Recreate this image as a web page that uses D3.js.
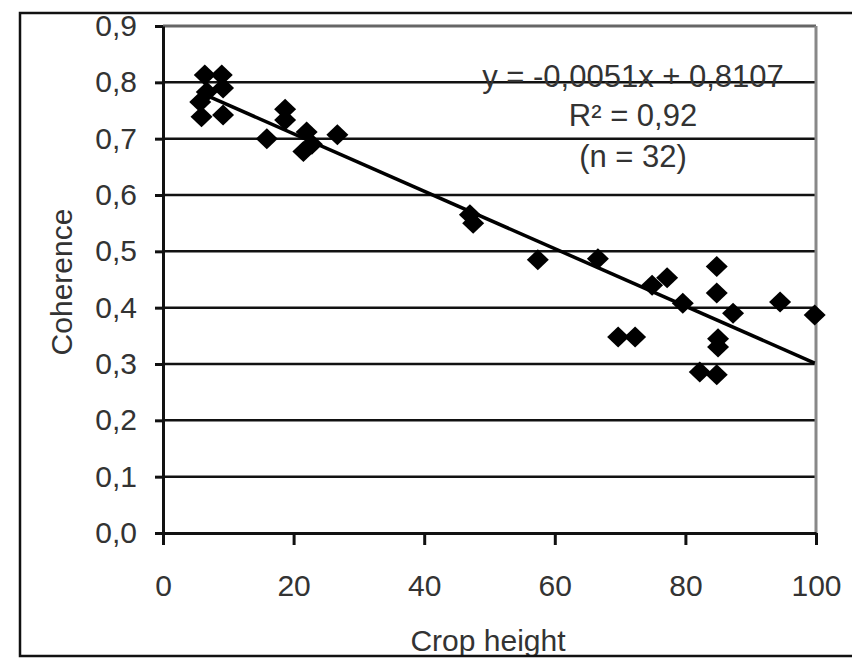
<!DOCTYPE html>
<html>
<head>
<meta charset="utf-8">
<script src="https://cdn.jsdelivr.net/npm/d3@7"></script>
<style>
  body { margin: 0; background: #fff; }
  text { font-family: "Liberation Sans", Arial, sans-serif; }
</style>
</head>
<body>
<div id="chart"></div>
<script>
// crop height (x) and coherence (y)
const cropHeight = [6.4, 9.0, 9.2, 6.7, 5.7, 5.9, 9.2,
  15.9, 18.7, 18.7, 22.0, 22.8, 21.5, 26.7,
  47.0, 47.5, 57.4, 66.6, 69.7, 72.3, 74.9, 77.2,
  79.6, 82.2, 84.8, 84.8, 85.0, 85.0, 84.8, 87.3, 94.5, 99.8];
const coherence = [0.813, 0.813, 0.79, 0.783, 0.765, 0.739, 0.742,
  0.70, 0.752, 0.733, 0.712, 0.69, 0.677, 0.707,
  0.565, 0.55, 0.485, 0.487, 0.348, 0.348, 0.44, 0.453,
  0.408, 0.286, 0.473, 0.426, 0.345, 0.33, 0.281, 0.39, 0.41, 0.387];

const slope = -0.0051;
const intercept = 0.8107;
const annotation = ['y = -0,0051x + 0,8107', 'R² = 0,92', '(n = 32)'];

const xTicks = [0, 20, 40, 60, 80, 100];
const yTicks = [0, 0.1, 0.2, 0.3, 0.4, 0.5, 0.6, 0.7, 0.8, 0.9];

const width = 852;
const height = 659;

const svg = d3.select('#chart').append('svg')
  .attr('width', width)
  .attr('height', height);

const x = d3.scaleLinear().domain([0, 100]).range([163, 816]);
const y = d3.scaleLinear().domain([0, 0.9]).range([533, 26]);

const comma = (d) => d3.format('.1f')(d).replace('.', ',');

// horizontal gridlines
svg.append('g')
  .selectAll('line')
  .data(yTicks.filter((d) => d > 0))
  .enter()
  .append('line')
  .attr('x1', x(0))
  .attr('x2', x(100))
  .attr('y1', (d) => y(d))
  .attr('y2', (d) => y(d))
  .attr('stroke', (d) => (d === 0.9 ? '#666' : '#111'))
  .attr('stroke-width', (d) => (d === 0.9 ? 3 : 2.5));

// right border of plot area
svg.append('line')
  .attr('x1', x(100)).attr('x2', x(100))
  .attr('y1', y(0.9)).attr('y2', y(0))
  .attr('stroke', '#888')
  .attr('stroke-width', 3);

// axes
const yAxis = svg.append('g')
  .attr('transform', `translate(${x(0)},0)`)
  .call(d3.axisLeft(y).tickValues(yTicks).tickFormat(comma)
    .tickSizeInner(8).tickSizeOuter(0).tickPadding(18));

const xAxis = svg.append('g')
  .attr('transform', `translate(0,${y(0)})`)
  .call(d3.axisBottom(x).tickValues(xTicks).tickFormat(d3.format('d'))
    .tickSizeInner(12).tickSizeOuter(0).tickPadding(30));

[yAxis, xAxis].forEach((g) => {
  g.select('.domain').attr('stroke', '#111').attr('stroke-width', 3);
  g.selectAll('.tick line').attr('stroke', '#111').attr('stroke-width', 3);
  g.selectAll('.tick text')
    .attr('fill', '#333')
    .attr('font-size', 30)
    .attr('font-family', '"Liberation Sans", Arial, sans-serif');
});

// data points
svg.append('g')
  .selectAll('path')
  .data(cropHeight.map((d, i) => [d, coherence[i]]))
  .enter()
  .append('path')
  .attr('d', 'M0,-10.5 L11,0 L0,10.5 L-11,0 Z')
  .attr('fill', '#000')
  .attr('transform', (d) => `translate(${x(d[0])},${y(d[1])})`);

// linear trendline
const xMin = d3.min(cropHeight);
const xMax = d3.max(cropHeight);
svg.append('line')
  .attr('x1', x(xMin))
  .attr('y1', y(slope * xMin + intercept))
  .attr('x2', x(xMax))
  .attr('y2', y(slope * xMax + intercept))
  .attr('stroke', '#000')
  .attr('stroke-width', 3.5);

// equation annotation
svg.append('g')
  .selectAll('text')
  .data(annotation)
  .enter()
  .append('text')
  .attr('x', 633)
  .attr('y', (d, i) => [87, 126, 167][i])
  .attr('text-anchor', 'middle')
  .attr('font-size', 31)
  .attr('fill', '#333')
  .text((d) => d);

// axis titles
svg.append('text')
  .attr('transform', 'translate(72,282) rotate(-90)')
  .attr('text-anchor', 'middle')
  .attr('font-size', 30)
  .attr('fill', '#333')
  .text('Coherence');

svg.append('text')
  .attr('x', 488)
  .attr('y', 651)
  .attr('text-anchor', 'middle')
  .attr('font-size', 30)
  .attr('fill', '#333')
  .text('Crop height');

// outer frame
svg.append('path')
  .attr('d', `M${width + 5},13 H20 V656 H${width + 5}`)
  .attr('fill', 'none')
  .attr('stroke', '#111')
  .attr('stroke-width', 2.5);
</script>
</body>
</html>
